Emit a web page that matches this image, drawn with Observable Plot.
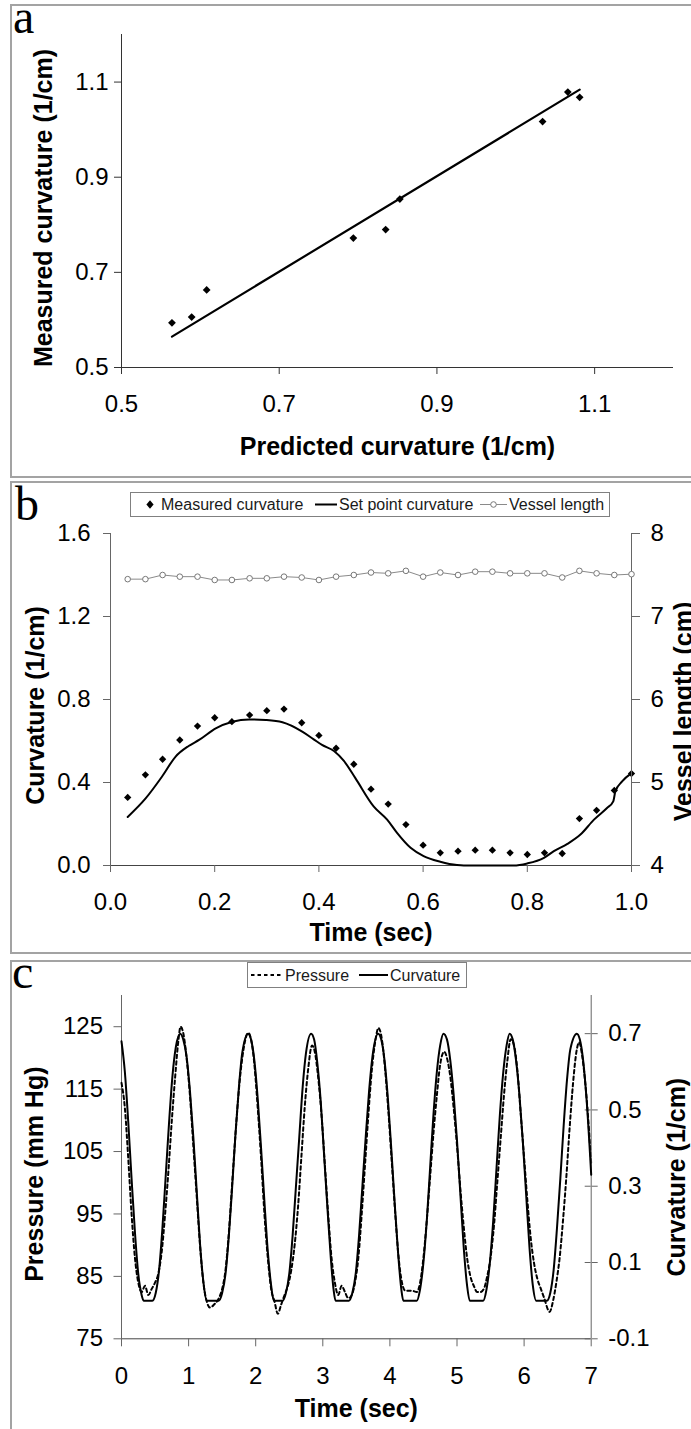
<!DOCTYPE html>
<html><head><meta charset="utf-8">
<script src="https://cdn.jsdelivr.net/npm/d3@7"></script>
<script src="https://cdn.jsdelivr.net/npm/@observablehq/plot@0.6"></script>
<style>
html,body{margin:0;padding:0;background:#fff;overflow:hidden;}
#page{position:relative;width:691px;height:1429px;overflow:hidden;background:#fff;font-family:"Liberation Sans",Arial,Helvetica,sans-serif;}
.panel{position:absolute;left:10px;width:720px;border:2px solid #a3a3a3;border-right:none;box-sizing:border-box;}
.letter{position:absolute;font-family:"Liberation Serif","Times New Roman",serif;font-size:48px;line-height:34px;color:#000;}
.layer{position:absolute;left:0;width:691px;}
.layer svg{display:block;}
.legend{position:absolute;overflow:visible;}
</style></head>
<body><div id="page">
<div class="panel" style="top:4px;height:474px"></div>
<div class="panel" style="top:481px;height:473px"></div>
<div class="panel" style="top:960px;height:520px;border-bottom:none"></div>
<div class="letter" style="left:13px;top:0px">a</div>
<div class="letter" style="left:15px;top:487px">b</div>
<div class="letter" style="left:12px;top:955px">c</div>
</div>
<script>
// ---------- Panel a data ----------
const aPredicted = [0.564, 0.589, 0.608, 0.794, 0.835, 0.853, 1.034, 1.066, 1.081];
const aMeasured  = [0.594, 0.606, 0.663, 0.772, 0.790, 0.854, 1.017, 1.079, 1.068];
const aFitX = [0.564, 1.081];
const aFitY = [0.565, 1.084];
const aTicks = [0.5, 0.7, 0.9, 1.1];

// ---------- Panel b data ----------
const bTime = [0.033,0.067,0.100,0.133,0.167,0.200,0.233,0.267,0.300,0.333,0.367,0.400,0.433,0.467,0.500,
               0.533,0.567,0.600,0.633,0.667,0.700,0.733,0.767,0.800,0.833,0.867,0.900,0.933,0.967,1.000];
const bMeasured = [0.328,0.437,0.512,0.605,0.672,0.712,0.693,0.725,0.746,0.754,0.688,0.627,0.565,0.488,0.368,
                   0.296,0.197,0.098,0.061,0.069,0.074,0.074,0.061,0.053,0.061,0.058,0.226,0.266,0.362,0.443];
const bVessel = [7.45,7.45,7.50,7.48,7.48,7.44,7.44,7.46,7.46,7.48,7.47,7.44,7.48,7.50,7.53,
                 7.52,7.55,7.48,7.53,7.50,7.54,7.54,7.52,7.52,7.52,7.47,7.55,7.52,7.50,7.51];
const bSetTime = [0.033,0.067,0.099,0.125,0.150,0.170,0.202,0.234,0.266,0.298,0.330,0.368,0.390,0.406,0.429,0.448,0.470,
                  0.505,0.531,0.550,0.576,0.601,0.633,0.665,0.678,0.774,0.800,0.832,0.851,0.877,0.902,0.928,0.953,0.965,0.969,0.982,1.000];
const bSetVal = [0.234,0.322,0.429,0.525,0.576,0.605,0.661,0.693,0.704,0.701,0.690,0.645,0.608,0.581,0.552,0.504,0.421,
                 0.285,0.221,0.157,0.085,0.045,0.018,0.002,0,0,0.010,0.037,0.069,0.104,0.149,0.221,0.277,0.309,0.357,0.405,0.445];
const bXTicks = [0, 0.2, 0.4, 0.6, 0.8, 1.0];
const bYTicks = [0, 0.4, 0.8, 1.2, 1.6];
const bY2Ticks = [4, 5, 6, 7, 8];
const bNames = ["Measured curvature", "Set point curvature", "Vessel length"];

// ---------- Panel c data ----------
const cCurvTime = [0,0.05,0.10,0.15,0.20,0.25,0.30,0.33,0.46,0.51,0.56,0.61,0.66,0.71,0.76,0.81,0.874,
  0.92,0.97,1.02,1.07,1.12,1.17,1.22,1.27,1.45,1.50,1.55,1.60,1.65,1.70,1.75,1.80,1.886,
  1.93,1.98,2.03,2.08,2.13,2.18,2.23,2.27,2.40,2.45,2.50,2.55,2.60,2.65,2.70,2.75,2.826,
  2.87,2.92,2.97,3.02,3.07,3.12,3.16,3.19,3.39,3.44,3.49,3.54,3.59,3.64,3.69,3.74,3.825,
  3.87,3.92,3.97,4.02,4.07,4.12,4.17,4.20,4.40,4.45,4.50,4.55,4.60,4.65,4.70,4.75,4.798,
  4.85,4.90,4.95,5.00,5.05,5.10,5.15,5.19,5.39,5.44,5.49,5.54,5.59,5.64,5.69,5.74,5.784,
  5.83,5.88,5.93,5.98,6.03,6.08,6.13,6.18,6.34,6.39,6.44,6.49,6.54,6.59,6.64,6.69,6.786,
  6.83,6.88,6.93,7.00];
const cCurv = [0.68,0.60,0.47,0.32,0.18,0.07,0.015,0,0,0.02,0.08,0.19,0.33,0.47,0.59,0.665,0.70,
  0.685,0.64,0.55,0.43,0.29,0.15,0.05,0,0,0.02,0.07,0.17,0.30,0.44,0.56,0.65,0.70,
  0.685,0.63,0.53,0.40,0.26,0.13,0.04,0,0,0.02,0.07,0.17,0.30,0.43,0.56,0.65,0.70,
  0.685,0.62,0.52,0.38,0.24,0.11,0.03,0,0,0.02,0.07,0.17,0.30,0.43,0.55,0.64,0.70,
  0.685,0.63,0.53,0.40,0.26,0.13,0.03,0,0,0.03,0.10,0.21,0.35,0.49,0.60,0.67,0.70,
  0.685,0.63,0.54,0.42,0.28,0.14,0.04,0,0,0.03,0.10,0.21,0.35,0.49,0.60,0.67,0.70,
  0.685,0.63,0.54,0.42,0.28,0.14,0.04,0,0,0.02,0.08,0.19,0.32,0.46,0.58,0.66,0.70,
  0.685,0.63,0.53,0.33];
const cPressTime = [0,0.05,0.10,0.15,0.20,0.25,0.30,0.35,0.40,0.45,0.50,0.55,0.60,0.65,0.70,0.75,0.80,0.85,0.88,
  0.92,0.97,1.02,1.07,1.12,1.17,1.22,1.27,1.32,1.38,1.45,1.50,1.55,1.60,1.65,1.70,1.75,1.80,1.89,
  1.93,1.98,2.03,2.08,2.13,2.18,2.23,2.28,2.33,2.38,2.43,2.48,2.53,2.58,2.63,2.68,2.73,2.78,2.84,
  2.88,2.93,2.98,3.03,3.08,3.13,3.18,3.23,3.28,3.33,3.38,3.43,3.48,3.53,3.58,3.63,3.68,3.73,3.78,3.83,
  3.88,3.93,3.98,4.03,4.08,4.13,4.18,4.23,4.33,4.40,4.45,4.50,4.55,4.60,4.65,4.70,4.75,4.81,
  4.85,4.90,4.95,5.00,5.05,5.10,5.15,5.20,5.25,5.30,5.35,5.40,5.45,5.50,5.55,5.60,5.65,5.70,5.75,5.80,
  5.85,5.90,5.95,6.00,6.05,6.10,6.15,6.20,6.25,6.30,6.38,6.43,6.48,6.53,6.58,6.63,6.68,6.73,6.78,6.82,
  6.87,6.92,6.97,7.00];
const cPress = [116,112,104,95,88,84,82.5,83.5,82,83,84,85.5,89,95,102,110,117,123,125,
  124,120,114,106,98,90,84,81,80,80.5,81.5,83,86,92,100,108,115,120,124,
  123,119,112,104,95,88,83,81,79,80.5,82,83.5,86,90,96,104,112,118,122,
  121,117,111,103,95,88,84,82,83.5,82.5,81.5,82,84,88,95,103,111,118,122.5,124.8,
  123,118,111,103,95,88,84,82.7,82.7,82.5,84,88,94,101,108,114,119,121,
  120,117,112,106,99,93,88,85,83.5,82.5,82.5,83,85,88,93,100,107,114,119.5,123,
  122,118,111,104,97,91,87,84.5,83,81.5,79.3,81,84,88,94,101,109,116,121,122.5,
  120,115,108,103];
const cXTicks = [0,1,2,3,4,5,6,7];
const cYTicks = [75,85,95,105,115,125];
const cY2Ticks = [-0.1,0.1,0.3,0.5,0.7];
const cNames = ["Pressure", "Curvature"];

// ---------- helpers ----------
const FONT = "'Liberation Sans', Arial, Helvetica, sans-serif";
const baseStyle = {background: "transparent", fontFamily: FONT, fontSize: "24px", color: "#000"};
const page = document.getElementById("page");
function place(svg, top) {
  const d = document.createElement("div");
  d.className = "layer";
  d.style.top = top + "px";
  d.appendChild(svg);
  page.appendChild(d);
}
const zip = (xs, ys) => xs.map((x, i) => ({x, y: ys[i]}));
const f1 = d => d.toFixed(1);   // plain hyphen-minus, like the original
const f0 = d => d.toFixed(0);
const titleOpts = {fontWeight: "bold", fontSize: 25, fill: "#000", lineAnchor: "middle", textAnchor: "middle", text: d => d};

// ---------- Panel a ----------
const aAxis = "#333";
place(Plot.plot({
  width: 691, height: 478, marginLeft: 121, marginRight: 18, marginTop: 34, marginBottom: 111,
  style: baseStyle,
  x: {domain: [0.5, 1.2]}, y: {domain: [0.5, 1.2]},
  marks: [
    Plot.ruleX([0.5], {stroke: aAxis}),
    Plot.ruleY([0.5], {stroke: aAxis}),
    Plot.axisX(aTicks, {tickSize: 7, tickPadding: 20, tickFormat: f1, stroke: aAxis, fontSize: 24, label: null}),
    Plot.axisY(aTicks, {tickSize: 7, tickPadding: 6, tickFormat: f1, stroke: aAxis, fontSize: 24, label: null}),
    Plot.line(zip(aFitX, aFitY), {x: "x", y: "y", stroke: "#000", strokeWidth: 2.2}),
    Plot.dot(zip(aPredicted, aMeasured), {x: "x", y: "y", symbol: "diamond2", r: 3.5, fill: "#000"}),
    Plot.text(["Predicted curvature (1/cm)"], {...titleOpts, frameAnchor: "bottom", dy: 79}),
    Plot.text(["Measured curvature (1/cm)"], {...titleOpts, frameAnchor: "left", dx: -78, dy: 7, rotate: -90})
  ]
}), 0);

// ---------- Panel b ----------
const bAxis = "#666";
const bOpts = {width: 691, height: 473, marginLeft: 110, marginRight: 60, marginTop: 52, marginBottom: 89,
  style: baseStyle};
place(Plot.plot({
  ...bOpts, x: {domain: [0, 1]}, y: {domain: [0, 1.6]},
  marks: [
    Plot.ruleX([0], {stroke: bAxis}),
    Plot.ruleY([0], {stroke: "#444"}),
    Plot.axisX(bXTicks, {tickSize: 7, tickPadding: 20, tickFormat: f1, stroke: bAxis, fontSize: 24, label: null}),
    Plot.axisY(bYTicks, {tickSize: 7, tickPadding: 13, tickFormat: f1, stroke: bAxis, fontSize: 24, label: null}),
    Plot.line(zip(bSetTime, bSetVal), {x: "x", y: "y", stroke: "#000", strokeWidth: 2, curve: "monotone-x"}),
    Plot.dot(zip(bTime, bMeasured), {x: "x", y: "y", symbol: "diamond2", r: 3.3, fill: "#000"}),
    Plot.text(["Time (sec)"], {...titleOpts, frameAnchor: "bottom", dy: 67}),
    Plot.text(["Curvature (1/cm)"], {...titleOpts, frameAnchor: "left", dx: -75, dy: 6, rotate: -90})
  ]
}), 481);
place(Plot.plot({
  ...bOpts, x: {domain: [0, 1], axis: null}, y: {domain: [4, 8]},
  marks: [
    Plot.ruleX([1], {stroke: bAxis}),
    Plot.axisY(bY2Ticks, {anchor: "right", tickSize: 8, tickPadding: 11, tickFormat: f0, stroke: bAxis, fontSize: 24, label: null}),
    Plot.line(zip(bTime, bVessel), {x: "x", y: "y", stroke: "#8a8a8a", strokeWidth: 1}),
    Plot.dot(zip(bTime, bVessel), {x: "x", y: "y", r: 2.8, fill: "#fff", stroke: "#777", strokeWidth: 1}),
    Plot.text(["Vessel length (cm)"], {...titleOpts, frameAnchor: "right", dx: 52, dy: 12, rotate: -90})
  ]
}), 481);

// ---------- Panel c ----------
const cAxis = "#666";
const cOpts = {width: 691, height: 469, marginLeft: 121, marginRight: 100.3, marginTop: 35, marginBottom: 90.7,
  style: baseStyle};
place(Plot.plot({
  ...cOpts, x: {domain: [0, 7]}, y: {domain: [75, 130]},
  marks: [
    Plot.ruleX([0], {stroke: cAxis}),
    Plot.ruleY([75], {stroke: "#444"}),
    Plot.axisX(cXTicks, {tickSize: 8, tickPadding: 20, tickFormat: f0, stroke: cAxis, fontSize: 24, label: null}),
    Plot.axisY(cYTicks, {tickSize: 7.5, tickPadding: 11, tickFormat: f0, stroke: cAxis, fontSize: 24, label: null}),
    Plot.line(zip(cPressTime, cPress), {x: "x", y: "y", stroke: "#000", strokeWidth: 2, strokeDasharray: "3.5,3", curve: "monotone-x"}),
    Plot.text(["Time (sec)"], {...titleOpts, frameAnchor: "bottom", dy: 70}),
    Plot.text(["Pressure (mm Hg)"], {...titleOpts, frameAnchor: "left", dx: -87, dy: 7, rotate: -90})
  ]
}), 960);
place(Plot.plot({
  ...cOpts, x: {domain: [0, 7], axis: null}, y: {domain: [-0.1, 0.8]},
  marks: [
    Plot.ruleX([7], {stroke: cAxis}),
    Plot.ruleY(cY2Ticks, {stroke: cAxis, insetLeft: 463.7}),
    Plot.axisY(cY2Ticks, {anchor: "right", tickSize: 6, tickPadding: 11, tickFormat: f1, stroke: cAxis, fontSize: 24, label: null}),
    Plot.line(zip(cCurvTime, cCurv), {x: "x", y: "y", stroke: "#000", strokeWidth: 2, curve: "monotone-x"}),
    Plot.text(["Curvature (1/cm)"], {...titleOpts, frameAnchor: "right", dx: 86, dy: 10, rotate: -90})
  ]
}), 960);

// ---------- Legends ----------
const NS = "http://www.w3.org/2000/svg";
function el(tag, attrs, parent) {
  const e = document.createElementNS(NS, tag);
  for (const k in attrs) e.setAttribute(k, attrs[k]);
  if (parent) parent.appendChild(e);
  return e;
}
function legend(left, top, w, h) {
  const s = el("svg", {width: w + 1, height: h + 1, class: "legend"});
  s.style.left = left + "px"; s.style.top = top + "px";
  el("rect", {x: 0.5, y: 0.5, width: w, height: h, fill: "#fff", stroke: "#808080"}, s);
  page.appendChild(s);
  return s;
}
function label(s, x, y, txt) {
  const t = el("text", {x, y, "font-size": 16, "font-family": FONT, fill: "#1a1a1a"}, s);
  t.textContent = txt;
}
// panel b legend
{
  const s = legend(130, 492, 479, 24);
  const cy = 12.5;
  el("path", {d: `M20,${cy-4.3}L23.6,${cy}L20,${cy+4.3}L16.4,${cy}Z`, fill: "#000"}, s);
  label(s, 31, cy + 5.7, bNames[0]);
  el("line", {x1: 185, x2: 207, y1: cy, y2: cy, stroke: "#000", "stroke-width": 2}, s);
  label(s, 209, cy + 5.7, bNames[1]);
  el("line", {x1: 350, x2: 377, y1: cy, y2: cy, stroke: "#8a8a8a", "stroke-width": 1}, s);
  el("circle", {cx: 363.5, cy, r: 2.8, fill: "#fff", stroke: "#777"}, s);
  label(s, 379, cy + 5.7, bNames[2]);
}
// panel c legend
{
  const s = legend(247, 962, 219, 25);
  const cy = 13;
  el("line", {x1: 4, x2: 35, y1: cy, y2: cy, stroke: "#000", "stroke-width": 2, "stroke-dasharray": "3.5,3"}, s);
  label(s, 38, cy + 5.7, cNames[0]);
  el("line", {x1: 112, x2: 141, y1: cy, y2: cy, stroke: "#000", "stroke-width": 2}, s);
  label(s, 143, cy + 5.7, cNames[1]);
}
</script>
</body></html>
